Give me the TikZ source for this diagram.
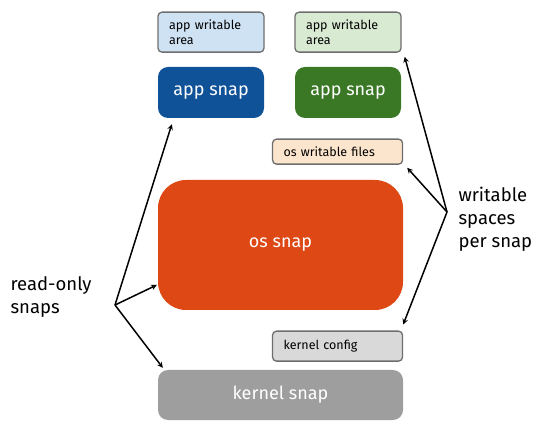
\documentclass[tikz,border=0pt]{standalone}
\usepackage{fontspec}
\setmainfont{Fira Sans}
\usepackage{tikz}
\usetikzlibrary{positioning,calc}
\usetikzlibrary{arrows}
\definecolor{appblue}{RGB}{16,82,152}
\definecolor{appgreen}{RGB}{58,120,38}
\definecolor{osorange}{RGB}{221,72,20}
\definecolor{kernelgray}{RGB}{158,158,158}
\definecolor{areablue}{RGB}{207,226,243}
\definecolor{areagreen}{RGB}{217,234,211}
\definecolor{areapeach}{RGB}{252,229,205}
\definecolor{areagray}{RGB}{217,217,217}
\definecolor{areaborder}{RGB}{110,110,110}
\tikzstyle{snap} = [rectangle, rounded corners=10pt, text=white,
    font=\fontsize{18}{21}\selectfont, minimum height=51pt]
\tikzstyle{area} = [rectangle, rounded corners=4pt, draw=areaborder, line width=1.3pt,
    font=\fontsize{12.5}{15.5}\selectfont, align=left, inner xsep=11pt, inner ysep=2pt]
\tikzstyle{arrow} = [line width=1.5pt,->,>=stealth]
\tikzstyle{label} = [font=\fontsize{18.5}{23}\selectfont, align=left, anchor=west]

\begin{document}
\begin{tikzpicture}[x=1pt, y=-1pt]
    \useasboundingbox (0,0) rectangle (538,435);
    % the snaps themselves
    \node [snap, fill=appblue, minimum width=106pt] (appblue) at (211,92.5) {app snap};
    \node [snap, fill=appgreen, minimum width=106pt] (appgreen) at (348,92.5) {app snap};
    \node [snap, fill=osorange, minimum width=245pt, minimum height=130pt,
           rounded corners=28pt] (os) at (280.5,245) {os snap};
    \node [snap, fill=kernelgray, minimum width=245pt, minimum height=50pt] (kernel)
           at (280.5,395) {kernel snap};

    % writable spaces, placed next to their snap
    \node [area, fill=areablue, minimum width=106pt, minimum height=40pt,
           text width=84pt, above=14pt of appblue] (areablue) {app writable\\area};
    \node [area, fill=areagreen, minimum width=106pt, minimum height=40pt,
           text width=84pt, above=14pt of appgreen] (areagreen) {app writable\\area};
    \node [area, fill=areapeach, minimum width=130pt, minimum height=25pt,
           text width=108pt, above left=15pt and 0pt of os.north east] (osfiles)
           {os writable files};
    \node [area, fill=areagray, minimum width=130pt, minimum height=30pt,
           text width=108pt, above left=8pt and 0pt of kernel.north east] (kconfig)
           {kernel config};

    % the two side labels
    \coordinate (ro) at (115,305);
    \coordinate (ws) at (447,212);
    \node [label] (rolabel) at (7,297) {read-only\\snaps};
    \node [label] (wslabel) at (455,219) {writable\\spaces\\per snap};

    \draw [arrow] (ro) -- ([xshift=14pt,yshift=-6pt]appblue.south west);
    \draw [arrow] (ro) -- ([xshift=-1pt,yshift=-40pt]os.west);
    \draw [arrow] (ro) -- ([xshift=5pt,yshift=2pt]kernel.north west);
    \draw [arrow] (ws) -- ([xshift=3pt,yshift=-4pt]areagreen.south east);
    \draw [arrow] (ws) -- ([xshift=4pt,yshift=-3pt]osfiles.south east);
    \draw [arrow] (ws) -- ([yshift=6pt]kconfig.north east);
\end{tikzpicture}
\end{document}
